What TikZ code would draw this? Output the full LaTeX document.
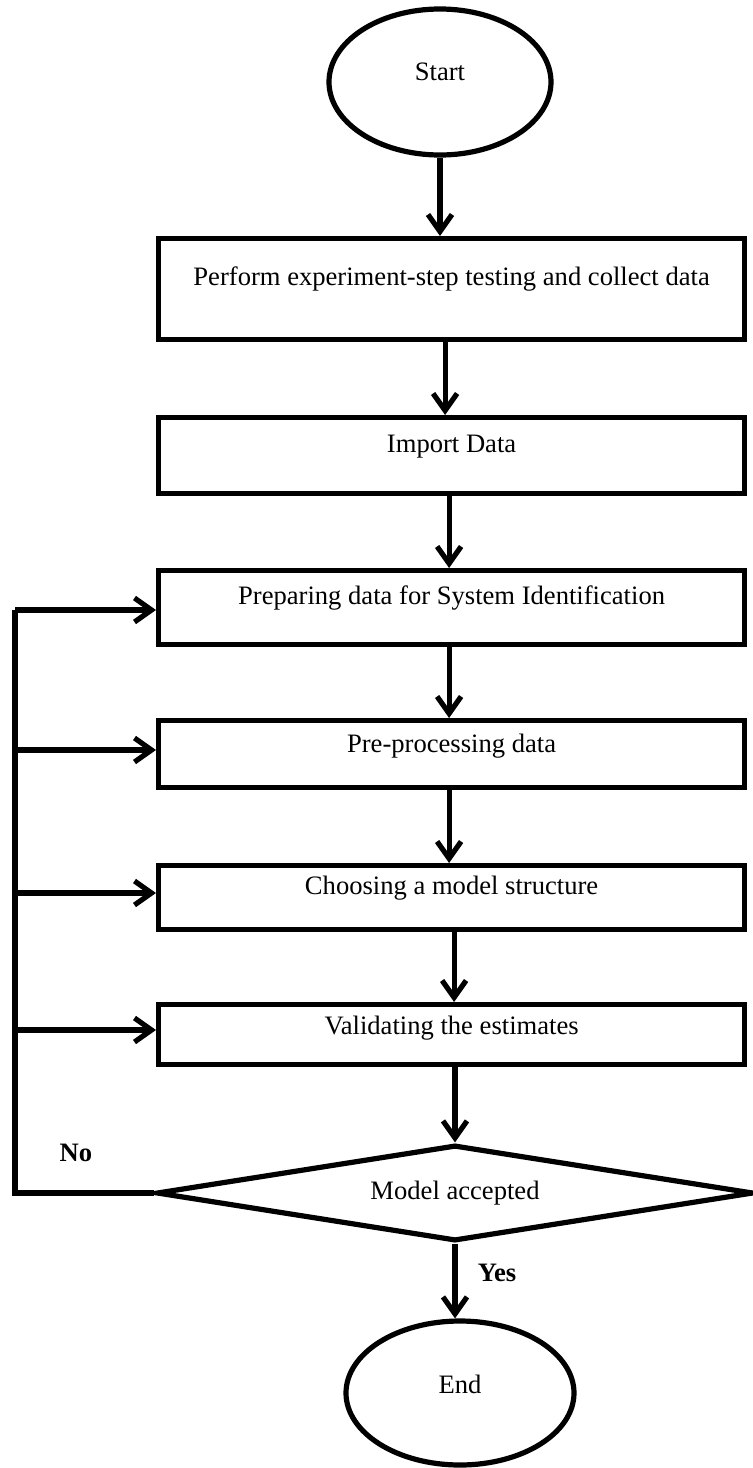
\documentclass[tikz,border=0pt]{standalone}
\usepackage{fontspec}
\setmainfont{Liberation Serif}
\usetikzlibrary{arrows.meta,shapes.geometric}

\begin{document}
\begin{tikzpicture}[x=0.5pt,y=-0.5pt,
  every node/.style={font=\fontsize{13.3}{16}\selectfont},
  thickline/.style={line width=2.6pt},
  arr/.style={thickline,-{Straight Barb[length=8.5pt,width=12pt,line width=2.6pt]}},
  stepbox/.style={draw,thickline,rectangle,inner sep=0pt,anchor=north west,
    minimum width=293pt},
  terminal/.style={draw,thickline,ellipse,inner sep=0pt},
  decision/.style={draw,thickline,diamond,aspect=6.1,inner sep=0pt,
    minimum width=298.5pt,minimum height=48pt},
  tag/.style={font=\fontsize{13.3}{16}\selectfont\bfseries}
]
\useasboundingbox (0,0) rectangle (753,1468);

% terminals
\node[terminal,minimum width=111pt,minimum height=73pt,
  text height=8pt,text depth=10pt] (start) at (440,82) {Start};
\node[terminal,minimum width=114pt,minimum height=72pt,
  text height=9pt,text depth=9pt] (end) at (460,1393) {End};

% process steps
\node[stepbox,text height=23.5pt,text depth=27pt] (b1) at (156,236)
  {Perform experiment-step testing and collect data};
\node[stepbox,text height=17.5pt,text depth=20.5pt] (b2) at (156,415)
  {Import Data};
\node[stepbox,text height=17pt,text depth=20pt] (b3) at (156,568)
  {Preparing data for System Identification};
\node[stepbox,text height=16pt,text depth=17.5pt] (b4) at (156,718)
  {Pre-processing data};
\node[stepbox,text height=14.5pt,text depth=17.5pt] (b5) at (156,863)
  {Choosing a model structure};
\node[stepbox,text height=15pt,text depth=15pt] (b6) at (156,1002)
  {Validating the estimates};

% decision
\node[decision] (dm) at (455,1193) {Model accepted};

% main flow
\draw[arr] (start.south) -- (start.south |- b1.north);
\draw[arr] ([xshift=-3.25pt]b1.south) -- ([xshift=-3.25pt]b2.north);
\draw[arr] ([xshift=-1.25pt]b2.south) -- ([xshift=-1.25pt]b3.north);
\draw[arr] ([xshift=-1.25pt]b3.south) -- ([xshift=-1.25pt]b4.north);
\draw[arr] ([xshift=-1.25pt]b4.south) -- ([xshift=-1.25pt]b5.north);
\draw[arr] ([xshift=1.25pt]b5.south) -- ([xshift=1.25pt]b6.north);
\draw[arr] (dm.north |- b6.south) -- (dm.north);
\draw[arr] (dm.south) -- (dm.south |- end.north);

% feedback loop on the left
\coordinate (j3) at (15,610);
\coordinate (j4) at (15,750);
\coordinate (j5) at (15,893);
\coordinate (j6) at (15,1030);
\draw[thickline] (dm.west) -- (dm.west -| j3) -- (j3);
\draw[arr] (j3) -- (j3 -| b3.west);
\draw[arr] (j4) -- (j4 -| b4.west);
\draw[arr] (j5) -- (j5 -| b5.west);
\draw[arr] (j6) -- (j6 -| b6.west);

% branch labels
\node[tag] (no) at (76,1153) {No};
\node[tag] (yes) at (497,1273) {Yes};
\end{tikzpicture}
\end{document}
